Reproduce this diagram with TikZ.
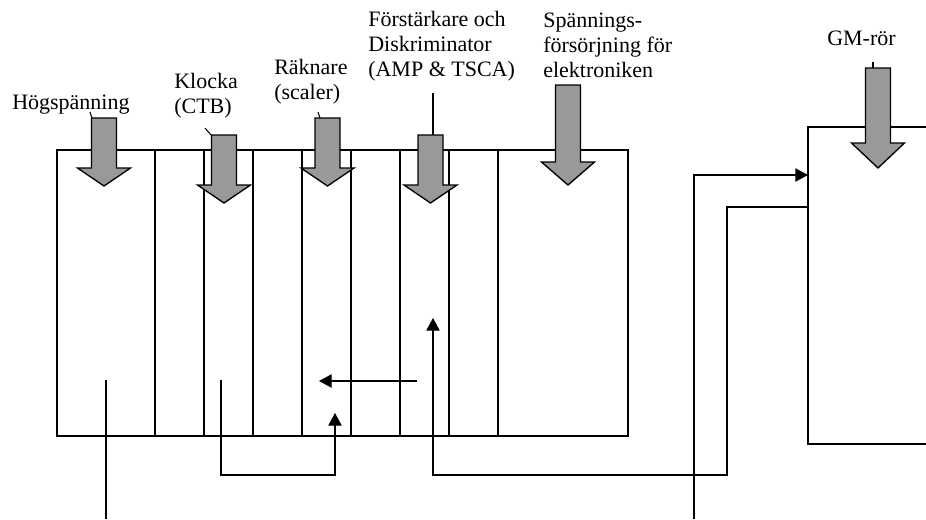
\documentclass[tikz,border=0pt]{standalone}
\usepackage{fontspec}
\setmainfont{Liberation Serif}
\usetikzlibrary{arrows.meta}
\definecolor{arrowgray}{HTML}{999999}
\tikzset{
    lab/.style={
        font=\fontsize{16.5}{18.4}\selectfont, anchor=base west, align=left, inner sep=0pt
    },
    wire/.style={line width=1pt},
    sig/.style={wire, -{Triangle[length=9.5pt,width=10pt]}},
    leader/.style={line width=0.8pt},
    bigarrow/.style={fill=arrowgray, draw=black, line width=1pt}
}
% block arrow: centre x, shaft top, head base, tip
\newcommand{\supplyarrow}[4]{%
  \filldraw[bigarrow] ({#1-12.5},#2) -- ({#1+12.5},#2) -- ({#1+12.5},#3) -- ({#1+26.5},#3)
    -- (#1,#4) -- ({#1-26.5},#3) -- ({#1-12.5},#3) -- cycle;}

\begin{document}
\begin{tikzpicture}[x=0.75pt,y=-0.75pt, line cap=butt, line join=miter]
\useasboundingbox (0,0) rectangle (926,519);

% rack with the modules
\draw[wire] (57,150) rectangle (628,436);
\foreach \x in {155,204,...,498} {
  \draw[wire] (\x,150) -- (\x,436);
}

% GM tube housing (runs off the right edge)
\draw[wire] (926,127) -- (808,127) -- (808,444) -- (926,444);

% supply arrows
\supplyarrow{104}{118}{168}{186}
\supplyarrow{224}{135}{185}{203}
\supplyarrow{327.5}{118}{168}{186}
\supplyarrow{430.5}{135}{185}{203}
\supplyarrow{568}{85}{162}{185}
\supplyarrow{878}{68}{143}{168}

% labels (base = last line)
\node[lab] (hog) at (12,109) {Högspänning};
\node[lab] (klocka) at (174,113.5) {Klocka\\(CTB)};
\node[lab] (raknare) at (274,99.5) {Räknare\\(scaler)};
\node[lab] (amp) at (368,76) {Förstärkare och\\Diskriminator\\(AMP \& TSCA)};
\node[lab] (spann) at (543,77) {Spännings-\\försörjning för\\elektroniken};
\node[lab] (gm) at (827,45) {GM-rör};

% leaders from labels to arrows
\draw[leader] (90,112) -- (92,118);
\draw[leader] (205,128) -- (211,135);
\draw[leader] (318,112) -- (320,118);
\draw[leader] (433,93) -- (433,135);
\draw[leader] (873,62) -- (873,68);

% signal points
\coordinate (hvout) at (106,380);
\coordinate (hvend) at (106,519);
\coordinate (ctbout) at (221,380);
\coordinate (ctbin) at (335,413);
\coordinate (cntin) at (319,381);
\coordinate (ampout) at (417,381);
\coordinate (ampin) at (433,318);
\coordinate (gmin) at (808,175);
\coordinate (gmout) at (808,207);
\coordinate (hvtube) at (694,519);

% wiring
\draw[wire] (hvout) -- (hvend);
\draw[sig] (ctbout) -- (221,475) -| (ctbin);
\draw[sig] (ampout) -- (cntin);
\draw[sig] (hvtube) |- (gmin);
\draw[sig] (gmout) -- (727,207) |- (433,475) -- (ampin);

\end{tikzpicture}
\end{document}
